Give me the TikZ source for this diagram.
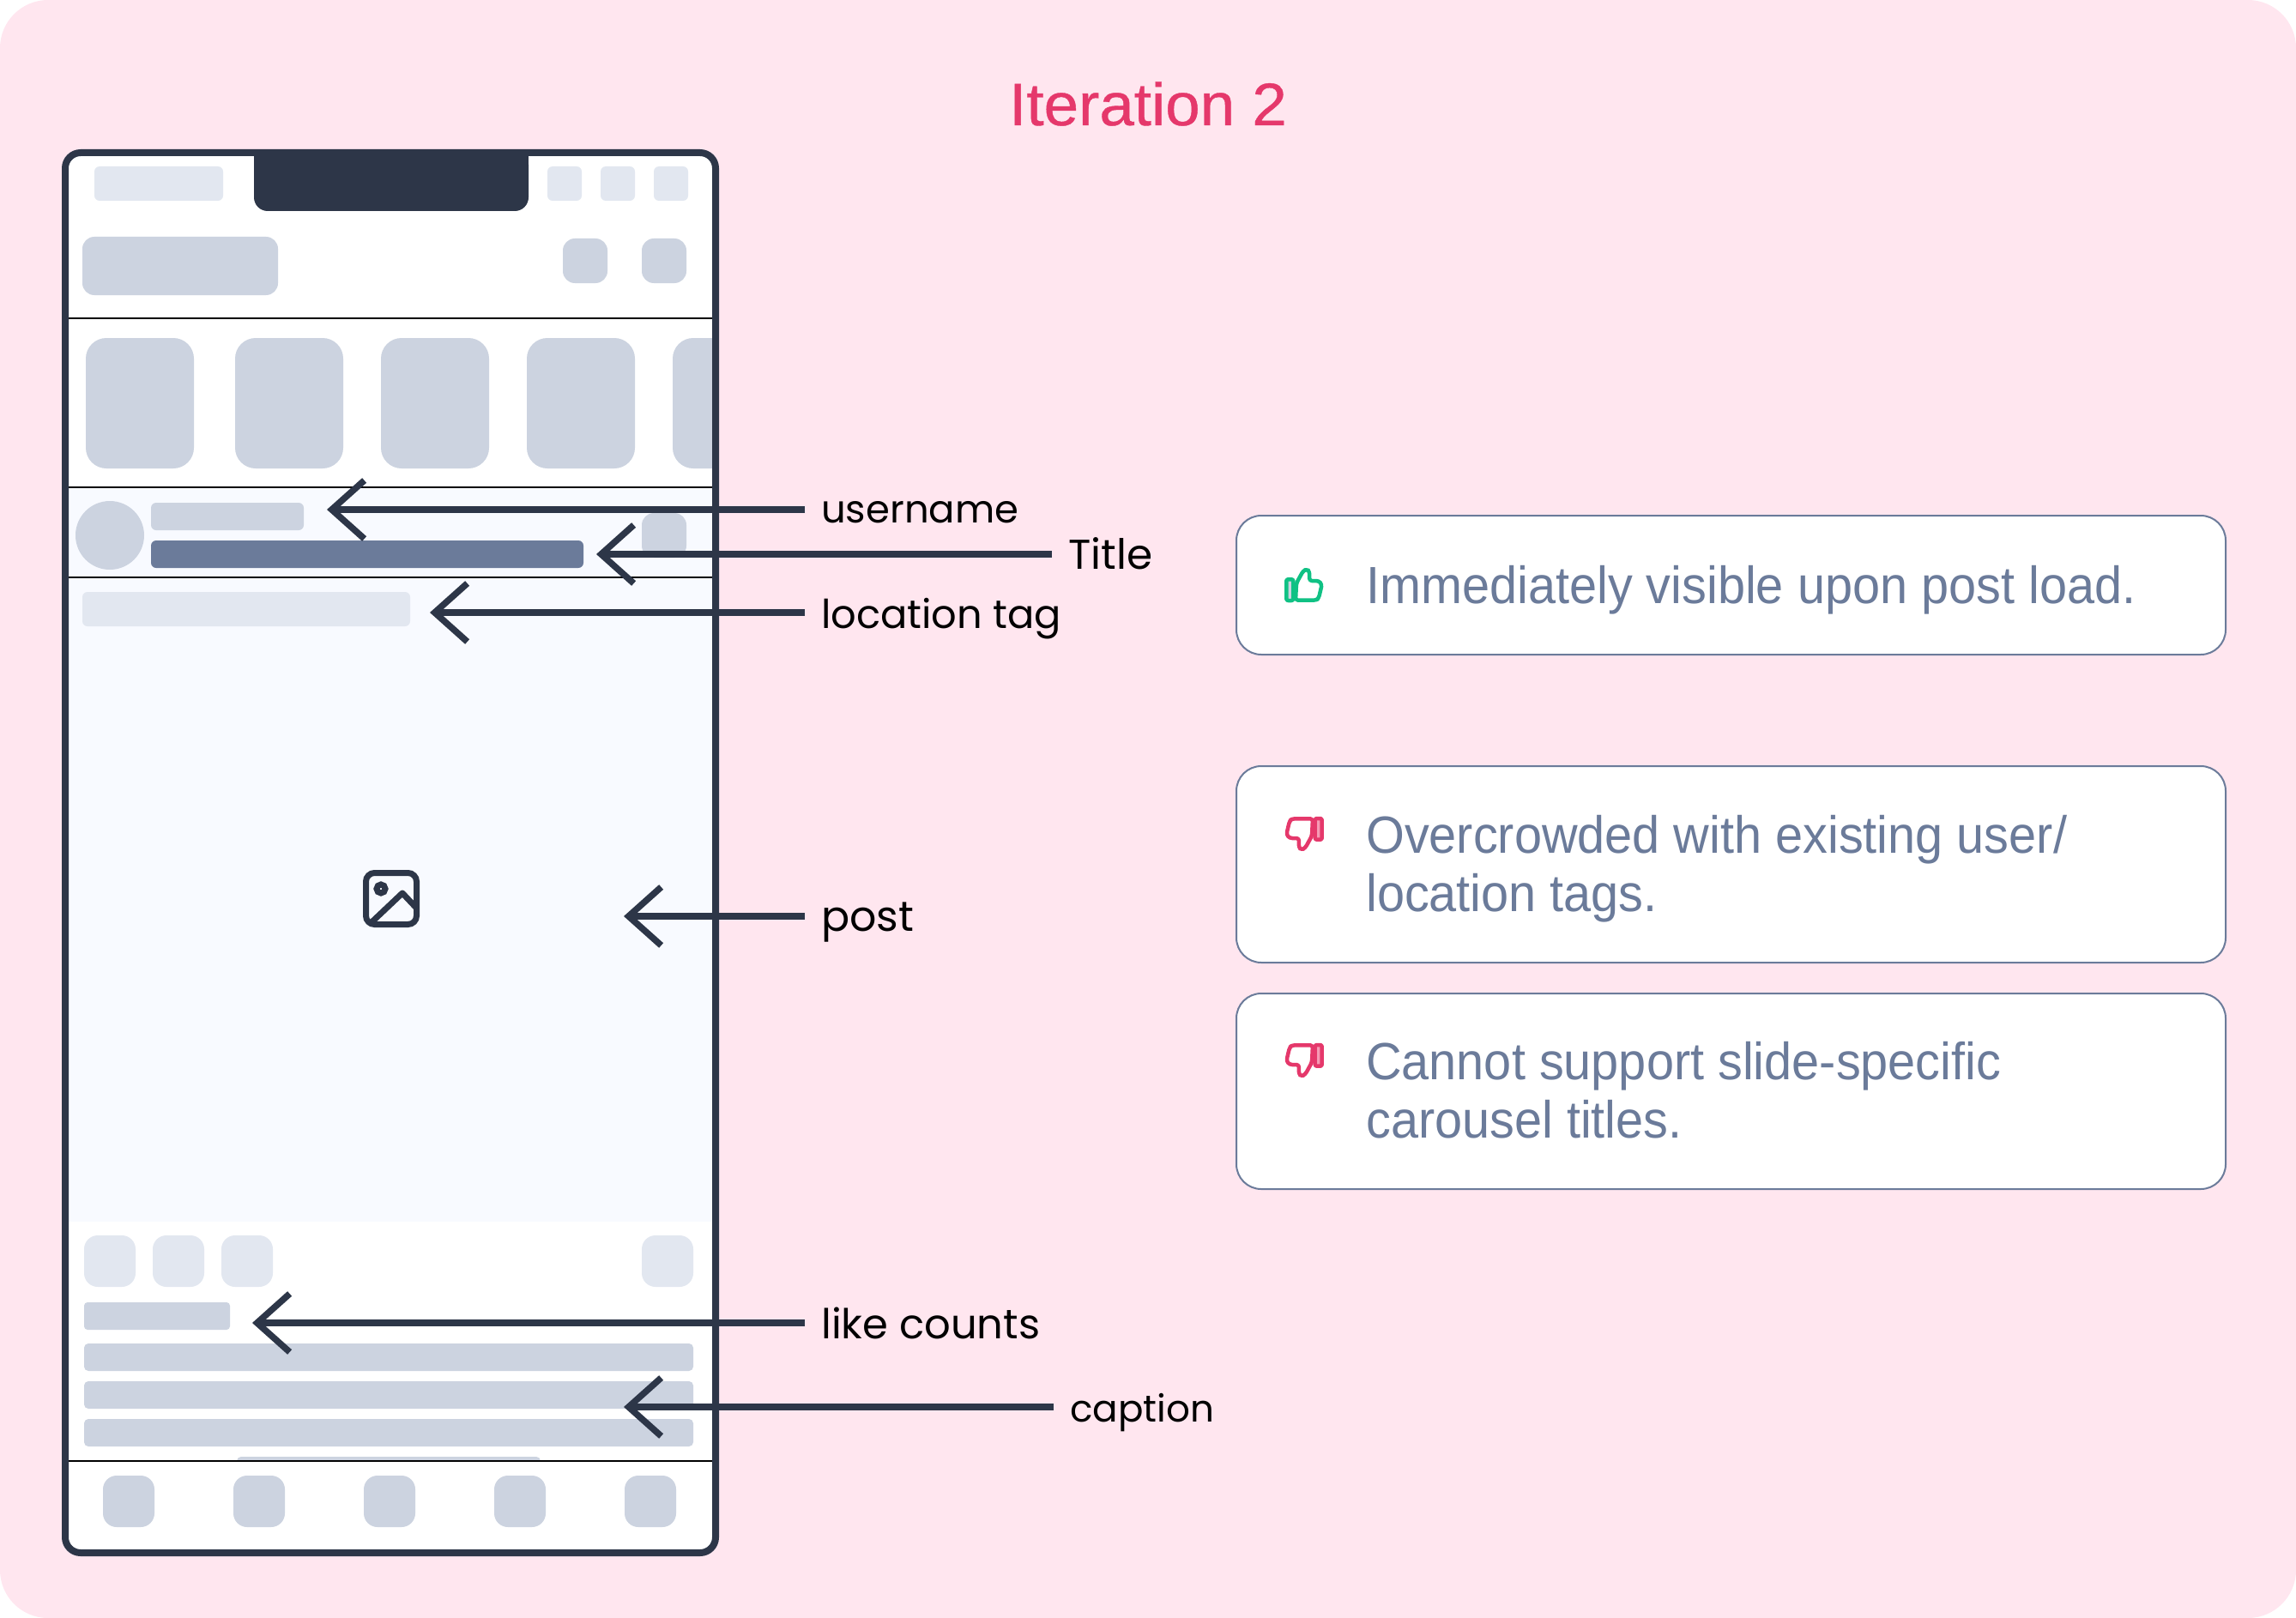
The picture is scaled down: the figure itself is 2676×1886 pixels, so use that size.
\documentclass[tikz,border=0pt]{standalone}
\usepackage{fontspec}
\usetikzlibrary{arrows.meta}
\setmainfont{Liberation Sans}
\newfontfamily\handfont{Poppins}
\newfontfamily\titlefont[FakeBold=0.6,FakeStretch=1.04]{Liberation Sans}
\newfontfamily\cardface[FakeStretch=0.945]{Liberation Sans}
\definecolor{pagepink}{HTML}{FFE6EF}
\definecolor{slateink}{HTML}{2D3648}
\definecolor{phlight}{HTML}{E2E7F0}
\definecolor{phmid}{HTML}{CCD3E0}
\definecolor{phdark}{HTML}{6B7B9A}
\definecolor{postbg}{HTML}{F8FAFF}
\definecolor{titlepink}{HTML}{E5386B}
\definecolor{goodgreen}{HTML}{10C184}
\definecolor{softpink}{HTML}{F59BB5}
\newcommand{\handlabel}[2]{\resizebox{#1pt}{!}{\handfont\fontsize{44}{50}\selectfont #2}}
\newcommand{\cardfont}{\cardface\fontsize{61}{68}\selectfont}
\tikzset{
  x=1pt,y=-1pt,
  ph/.style={fill=phmid},
  phl/.style={fill=phlight},
  sep/.style={draw=black,line width=2pt},
  callout/.style={draw=slateink,line width=8pt,-{Straight Barb[length=38pt,width=68pt,line width=7.5pt]}},
  hand/.style={anchor=base west,inner xsep=19pt,inner ysep=0pt,text=black},
  card/.style={draw=phdark,line width=2pt,fill=white,rounded corners=29pt},
  cardtext/.style={anchor=base west,inner sep=0pt,text=phdark,font=\cardfont},
  thumbicon/.style={line width=4.5pt,line join=round},
  pics/thumb/.style n args={2}{code={
    \draw[draw=#1,thumbicon,fill=white,rounded corners=3pt] (-9,-2.3) -- (-1.3,-16.3) -- (3,-18.7) -- (6.3,-15.7) -- (6,-5) -- (17,-5) -- (20.7,-0.7) -- (17,15) -- (14,17.7) -- (-10,17.7) -- cycle;
    \draw[draw=#1,fill=#2,thumbicon,rounded corners=2pt] (-20.7,-6.7) rectangle (-12.7,18);
  }}
}
\begin{document}
\begin{tikzpicture}
\useasboundingbox (0,0) rectangle (2676,1886);
\fill[pagepink,rounded corners=56pt] (0,0) rectangle (2676,1886);
\node[anchor=base,inner sep=0pt,text=titlepink,font=\titlefont\fontsize{70}{80}\selectfont] (title) at (1338,146) {Iteration 2};

% phone
\fill[white,rounded corners=18pt] (76,178) rectangle (834,1810);
\begin{scope}
\clip (80,182) rectangle (830,1806);
\fill[postbg] (80,568) rectangle (830,1424);
\fill[phl,rounded corners=6pt] (110,194) rectangle (260,234);
\fill[phl,rounded corners=6pt] (638,194) rectangle (678,234);
\fill[phl,rounded corners=6pt] (700,194) rectangle (740,234);
\fill[phl,rounded corners=6pt] (762,194) rectangle (802,234);
\fill[ph,rounded corners=14pt] (96,276) rectangle (324,344);
\fill[ph,rounded corners=14pt] (656,278) rectangle (708,330);
\fill[ph,rounded corners=14pt] (748,278) rectangle (800,330);
\fill[ph,rounded corners=24pt] (100,394) rectangle (226,546);
\fill[ph,rounded corners=24pt] (274,394) rectangle (400,546);
\fill[ph,rounded corners=24pt] (444,394) rectangle (570,546);
\fill[ph,rounded corners=24pt] (614,394) rectangle (740,546);
\fill[ph,rounded corners=24pt] (784,394) rectangle (910,546);
\fill[ph] (128,624) circle[radius=40];
\fill[ph,rounded corners=6pt] (176,586) rectangle (354,618);
\fill[phdark,rounded corners=6pt] (176,630) rectangle (680,662);
\fill[ph,rounded corners=14pt] (748,598) rectangle (800,650);
\fill[phl,rounded corners=6pt] (96,690) rectangle (478,730);
\fill[phl,rounded corners=16pt] (98,1440) rectangle (158,1500);
\fill[phl,rounded corners=16pt] (178,1440) rectangle (238,1500);
\fill[phl,rounded corners=16pt] (258,1440) rectangle (318,1500);
\fill[phl,rounded corners=16pt] (748,1440) rectangle (808,1500);
\fill[ph,rounded corners=4pt] (98,1518) rectangle (268,1550);
\fill[ph,rounded corners=5pt] (98,1566) rectangle (808,1598);
\fill[ph,rounded corners=5pt] (98,1610) rectangle (808,1642);
\fill[ph,rounded corners=5pt] (98,1654) rectangle (808,1686);
\fill[ph,rounded corners=5pt] (276,1698) rectangle (630,1730);
\fill[white] (80,1703) rectangle (830,1806);
\fill[ph,rounded corners=16pt] (120,1720) rectangle (180,1780);
\fill[ph,rounded corners=16pt] (272,1720) rectangle (332,1780);
\fill[ph,rounded corners=16pt] (424,1720) rectangle (484,1780);
\fill[ph,rounded corners=16pt] (576,1720) rectangle (636,1780);
\fill[ph,rounded corners=16pt] (728,1720) rectangle (788,1780);
\draw[sep] (80,371) -- (830,371);
\draw[sep] (80,568) -- (830,568);
\draw[sep] (80,673) -- (830,673);
\draw[sep] (80,1703) -- (830,1703);
\end{scope}
\draw[slateink,line width=8pt,rounded corners=18pt] (76,178) rectangle (834,1810);
\fill[slateink,rounded corners=16pt] (296,176) -- (296,246) -- (616,246) -- (616,176) -- cycle;
\fill[slateink] (296,176) rectangle (616,200);

% image glyph
\draw[slateink,line width=7pt,rounded corners=10pt] (426.5,1017.5) rectangle (485.5,1077.5);
\draw[slateink,line width=7pt] (444,1036) circle[radius=5];
\draw[slateink,line width=7pt,line join=round] (432,1076) -- (469,1041) -- (485,1058);

% labels
\node[hand] (lusername) at (938,609) {\handlabel{230}{username}};
\node[hand] (ltitle) at (1226,663) {\handlabel{98}{Title}};
\node[hand] (llocation) at (938,732) {\handlabel{280}{location tag}};
\node[hand] (lpost) at (938,1085) {\handlabel{108}{post}};
\node[hand] (llike) at (938,1560) {\handlabel{255}{like counts}};
\node[hand] (lcaption) at (1228,1657) {\handlabel{168}{caption}};

% callouts
\coordinate (tipuser) at (381,594);
\coordinate (tiptitle) at (695,646);
\coordinate (tiploc) at (501,714);
\coordinate (tippost) at (727,1068);
\coordinate (tiplike) at (294,1542);
\coordinate (tipcap) at (727,1640);
\draw[callout] (lusername.west |- tipuser) -- (tipuser);
\draw[callout] (ltitle.west |- tiptitle) -- (tiptitle);
\draw[callout] (llocation.west |- tiploc) -- (tiploc);
\draw[callout] (lpost.west |- tippost) -- (tippost);
\draw[callout] (llike.west |- tiplike) -- (tiplike);
\draw[callout] (lcaption.west |- tipcap) -- (tipcap);

% cards
\draw[card] (1441,601) rectangle (2594,763);
\draw[card] (1441,893) rectangle (2594,1122);
\draw[card] (1441,1158) rectangle (2594,1386);
\node[cardtext] (c1) at (1592,703) {Immediately visible upon post load.};
\node[cardtext] (c2a) at (1592,994) {Overcrowded with existing user/};
\node[cardtext] (c2b) at (1592,1062) {location tags.};
\node[cardtext] (c3a) at (1592,1258) {Cannot support slide-specific};
\node[cardtext] (c3b) at (1592,1326) {carousel titles.};
\pic at (1520,682) {thumb={goodgreen}{phmid}};
\pic[rotate=180] at (1520,972) {thumb={titlepink}{softpink}};
\pic[rotate=180] at (1520,1236) {thumb={titlepink}{softpink}};
\end{tikzpicture}
\end{document}
